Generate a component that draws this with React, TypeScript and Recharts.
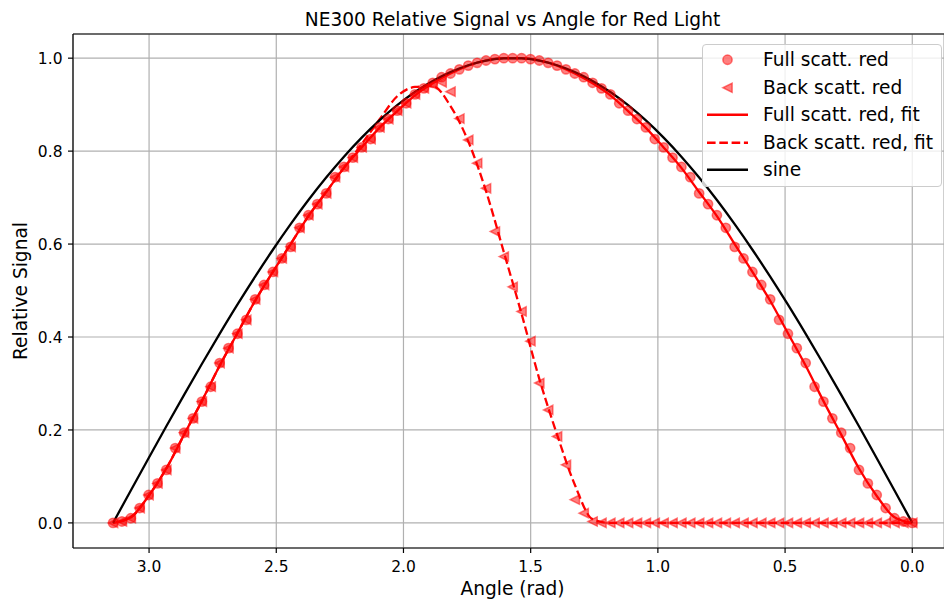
import React from "react";
import {
  CartesianGrid,
  ComposedChart,
  Line,
  ReferenceLine,
  Scatter,
  XAxis,
  YAxis,
} from "recharts";

// measurement angles (degrees), shared by both marker series
const markerAnglesDeg = [
  0, 2, 4, 6, 8, 10, 12, 14, 16, 18, 20, 22, 24, 26, 28, 30, 32, 34, 36, 38, 40,
  42, 44, 46, 48, 50, 52, 54, 56, 58, 60, 62, 64, 66, 68, 70, 72, 74, 76, 78, 80,
  82, 84, 86, 88, 90, 92, 94, 96, 98, 100, 102, 104, 106, 108, 110, 112, 114,
  116, 118, 120, 122, 124, 126, 128, 130, 132, 134, 136, 138, 140, 142, 144, 146,
  148, 150, 152, 154, 156, 158, 160, 162, 164, 166, 168, 170, 172, 174, 176, 178,
  180,
];

const fullScattRed = [
  0, 0.003, 0.01, 0.032, 0.06, 0.085, 0.114, 0.161, 0.194, 0.225, 0.261, 0.293,
  0.344, 0.376, 0.407, 0.437, 0.481, 0.512, 0.54, 0.569, 0.594, 0.635, 0.662,
  0.686, 0.709, 0.744, 0.766, 0.786, 0.808, 0.826, 0.851, 0.869, 0.887, 0.903,
  0.922, 0.935, 0.947, 0.959, 0.967, 0.976, 0.984, 0.99, 0.995, 0.998, 1.0, 1.0,
  1.0, 0.998, 0.995, 0.99, 0.984, 0.976, 0.967, 0.959, 0.947, 0.935, 0.922,
  0.903, 0.887, 0.869, 0.851, 0.826, 0.808, 0.786, 0.766, 0.744, 0.709, 0.686,
  0.662, 0.635, 0.594, 0.569, 0.54, 0.512, 0.481, 0.437, 0.407, 0.376, 0.344,
  0.293, 0.261, 0.225, 0.194, 0.161, 0.114, 0.085, 0.06, 0.032, 0.01, 0.003, 0,
];

const backScattRed = [
  0, 0, 0, 0, 0, 0, 0, 0, 0, 0, 0, 0, 0, 0, 0, 0, 0, 0, 0, 0, 0, 0, 0, 0, 0, 0,
  0, 0, 0, 0, 0, 0, 0, 0, 0, 0, 0.003, 0.021, 0.05, 0.125, 0.186, 0.243, 0.301,
  0.391, 0.455, 0.508, 0.573, 0.627, 0.72, 0.774, 0.824, 0.87, 0.928, 0.948,
  0.943, 0.935, 0.922, 0.903, 0.887, 0.869, 0.851, 0.826, 0.808, 0.786, 0.766,
  0.744, 0.709, 0.686, 0.662, 0.635, 0.594, 0.569, 0.54, 0.512, 0.481, 0.437,
  0.407, 0.376, 0.344, 0.293, 0.261, 0.225, 0.194, 0.161, 0.114, 0.085, 0.06,
  0.032, 0.01, 0.003, 0,
];

// fitted curves and reference sine (degrees)
const fitAnglesDeg = [
  0, 4, 8, 12, 16, 20, 24, 28, 32, 36, 40, 44, 48, 52, 56, 60, 64, 68, 72, 76,
  80, 84, 88, 92, 96, 100, 104, 108, 112, 116, 120, 124, 128, 132, 136, 140, 144,
  148, 152, 156, 160, 164, 168, 172, 176, 180,
];

const fullFitRed = [
  0, 0.012, 0.058, 0.117, 0.19, 0.262, 0.338, 0.408, 0.478, 0.54, 0.6, 0.66,
  0.712, 0.764, 0.808, 0.85, 0.886, 0.92, 0.946, 0.967, 0.984, 0.995, 1.0, 1.0,
  0.995, 0.984, 0.967, 0.946, 0.92, 0.886, 0.85, 0.808, 0.764, 0.712, 0.66, 0.6,
  0.54, 0.478, 0.408, 0.338, 0.262, 0.19, 0.117, 0.058, 0.012, 0,
];

const backFitRed = [
  0, 0, 0, 0, 0, 0, 0, 0, 0, 0, 0, 0, 0, 0, 0, 0, 0, 0, 0.008, 0.082, 0.19, 0.31,
  0.45, 0.583, 0.714, 0.821, 0.897, 0.94, 0.938, 0.918, 0.868, 0.815, 0.764,
  0.712, 0.66, 0.6, 0.54, 0.478, 0.408, 0.338, 0.262, 0.19, 0.117, 0.058, 0.012,
  0,
];

const sineRef = [
  0, 0.0698, 0.1392, 0.2079, 0.2756, 0.342, 0.4067, 0.4695, 0.5299, 0.5878,
  0.6428, 0.6947, 0.7431, 0.788, 0.829, 0.866, 0.8988, 0.9272, 0.9511, 0.9703,
  0.9848, 0.9945, 0.9994, 0.9994, 0.9945, 0.9848, 0.9703, 0.9511, 0.9272,
  0.8988, 0.866, 0.829, 0.788, 0.7431, 0.6947, 0.6428, 0.5878, 0.5299, 0.4695,
  0.4067, 0.342, 0.2756, 0.2079, 0.1392, 0.0698, 0,
];

const xTicks = [0, 0.5, 1, 1.5, 2, 2.5, 3];
const yTicks = [0, 0.2, 0.4, 0.6, 0.8, 1.0];

const legendLabels = [
  "Full scatt. red",
  "Back scatt. red",
  "Full scatt. red, fit",
  "Back scatt. red, fit",
  "sine",
];

const FONT = "DejaVu Sans, sans-serif";
const RED = "#ff0000";

const toRad = (deg: number) => (deg * Math.PI) / 180;
const pairs = (angles: number[], values: number[]) =>
  angles.map((a, i) => ({ x: toRad(a), y: values[i] }));

const fullPoints = pairs(markerAnglesDeg, fullScattRed);
const backPoints = pairs(markerAnglesDeg, backScattRed);
const fullFitLine = pairs(fitAnglesDeg, fullFitRed);
const backFitLine = pairs(fitAnglesDeg, backFitRed);
const sineLine = pairs(fitAnglesDeg, sineRef);

const MARK = 4.65;

function CircleMark(props: any) {
  return (
    <circle
      cx={props.cx}
      cy={props.cy}
      r={MARK}
      fill={RED}
      fillOpacity={0.5}
      stroke={RED}
      strokeOpacity={0.5}
      strokeWidth={1.5}
    />
  );
}

function TriangleMark(props: any) {
  const { cx, cy } = props;
  return (
    <polygon
      points={`${cx - MARK},${cy} ${cx + MARK},${cy - MARK} ${cx + MARK},${cy + MARK}`}
      fill={RED}
      fillOpacity={0.5}
      stroke={RED}
      strokeOpacity={0.5}
      strokeWidth={1.5}
      strokeLinejoin="miter"
    />
  );
}

function XTick(props: any) {
  const { x, y, payload } = props;
  return (
    <text x={x} y={y + 19} textAnchor="middle" fontFamily={FONT} fontSize={15.5} fill="#000">
      {Number(payload.value).toFixed(1)}
    </text>
  );
}

function YTick(props: any) {
  const { x, y, payload } = props;
  return (
    <text x={x} y={y + 5.6} textAnchor="end" fontFamily={FONT} fontSize={15.5} fill="#000">
      {Number(payload.value).toFixed(1)}
    </text>
  );
}

function LegendSymbol({ index }: { index: number }) {
  const cy = 13.75;
  const cx = 20.5;
  if (index === 0) return <svg width={41} height={27.5}><CircleMark cx={cx} cy={cy} /></svg>;
  if (index === 1) return <svg width={41} height={27.5}><TriangleMark cx={cx} cy={cy} /></svg>;
  const stroke = index === 4 ? "#000" : RED;
  return (
    <svg width={41} height={27.5}>
      <line
        x1={0}
        x2={41}
        y1={cy}
        y2={cy}
        stroke={stroke}
        strokeWidth={2.3}
        strokeDasharray={index === 3 ? "8.6 3.7" : undefined}
      />
    </svg>
  );
}

function ChartLegend() {
  return (
    <div
      style={{
        position: "absolute",
        left: 702,
        top: 44,
        width: 240,
        height: 143,
        boxSizing: "border-box",
        border: "1px solid #cccccc",
        borderRadius: 4,
        background: "rgba(255,255,255,0.8)",
        fontFamily: FONT,
        fontSize: 18.6,
        color: "#000",
      }}
    >
      {legendLabels.map((label, i) => (
        <div
          key={label}
          style={{
            position: "absolute",
            left: 4,
            top: 1.25 + 27.5 * i,
            height: 27.5,
            lineHeight: "27.5px",
            display: "flex",
            whiteSpace: "nowrap",
          }}
        >
          <LegendSymbol index={i} />
          <span style={{ marginLeft: 15 }}>{label}</span>
        </div>
      ))}
    </div>
  );
}

export default function App() {
  return (
    <div
      style={{
        position: "absolute",
        left: 0,
        top: 0,
        width: 944,
        height: 602,
        background: "#fff",
        overflow: "hidden",
      }}
    >
      <ComposedChart
        width={944}
        height={602}
        margin={{ top: 34, right: 0, bottom: 0, left: 0 }}
      >
        <CartesianGrid stroke="#b0b0b0" strokeWidth={1.2} />
        <XAxis
          dataKey="x"
          type="number"
          reversed
          domain={[-0.1247, 3.299]}
          allowDataOverflow
          ticks={xTicks}
          interval={0}
          height={54}
          tickSize={5}
          tickMargin={0}
          tick={<XTick />}
          axisLine={{ stroke: "#000", strokeWidth: 1.2 }}
          tickLine={{ stroke: "#000", strokeWidth: 1.2 }}
        />
        <YAxis
          dataKey="y"
          type="number"
          domain={[-0.054, 1.052]}
          allowDataOverflow
          ticks={yTicks}
          interval={0}
          width={73}
          tickSize={5}
          tickMargin={5.5}
          tick={<YTick />}
          axisLine={{ stroke: "#000", strokeWidth: 1.2 }}
          tickLine={{ stroke: "#000", strokeWidth: 1.2 }}
        />
        <ReferenceLine y={1.052} stroke="#000" strokeWidth={1.2} />
        <Scatter
          data={fullPoints}
          shape={CircleMark}
          isAnimationActive={false}
        />
        <Scatter
          data={backPoints}
          shape={TriangleMark}
          isAnimationActive={false}
        />
        <Line
          data={fullFitLine}
          dataKey="y"
          type="monotone"
          stroke={RED}
          strokeWidth={2.3}
          dot={false}
          activeDot={false}
          isAnimationActive={false}
        />
        <Line
          data={backFitLine}
          dataKey="y"
          type="monotone"
          stroke={RED}
          strokeWidth={2.3}
          strokeDasharray="8.6 3.7"
          dot={false}
          activeDot={false}
          isAnimationActive={false}
        />
        <Line
          data={sineLine}
          dataKey="y"
          type="monotone"
          stroke="#000"
          strokeWidth={2.3}
          dot={false}
          activeDot={false}
          isAnimationActive={false}
        />
      </ComposedChart>
      <div
        style={{
          position: "absolute",
          left: 512.5,
          top: 10.9,
          transform: "translateX(-50%)",
          whiteSpace: "nowrap",
          fontFamily: FONT,
          fontSize: 18.6,
          lineHeight: "18.6px",
          color: "#000",
        }}
      >
        NE300 Relative Signal vs Angle for Red Light
      </div>
      <div
        style={{
          position: "absolute",
          left: 512.5,
          top: 580.3,
          transform: "translateX(-50%)",
          whiteSpace: "nowrap",
          fontFamily: FONT,
          fontSize: 18.6,
          lineHeight: "18.6px",
          color: "#000",
        }}
      >
        Angle (rad)
      </div>
      <div
        style={{
          position: "absolute",
          left: 21.2,
          top: 291,
          transform: "translate(-50%, -50%) rotate(-90deg)",
          whiteSpace: "nowrap",
          fontFamily: FONT,
          fontSize: 18.6,
          lineHeight: "18.6px",
          color: "#000",
        }}
      >
        Relative Signal
      </div>
      <ChartLegend />
    </div>
  );
}
